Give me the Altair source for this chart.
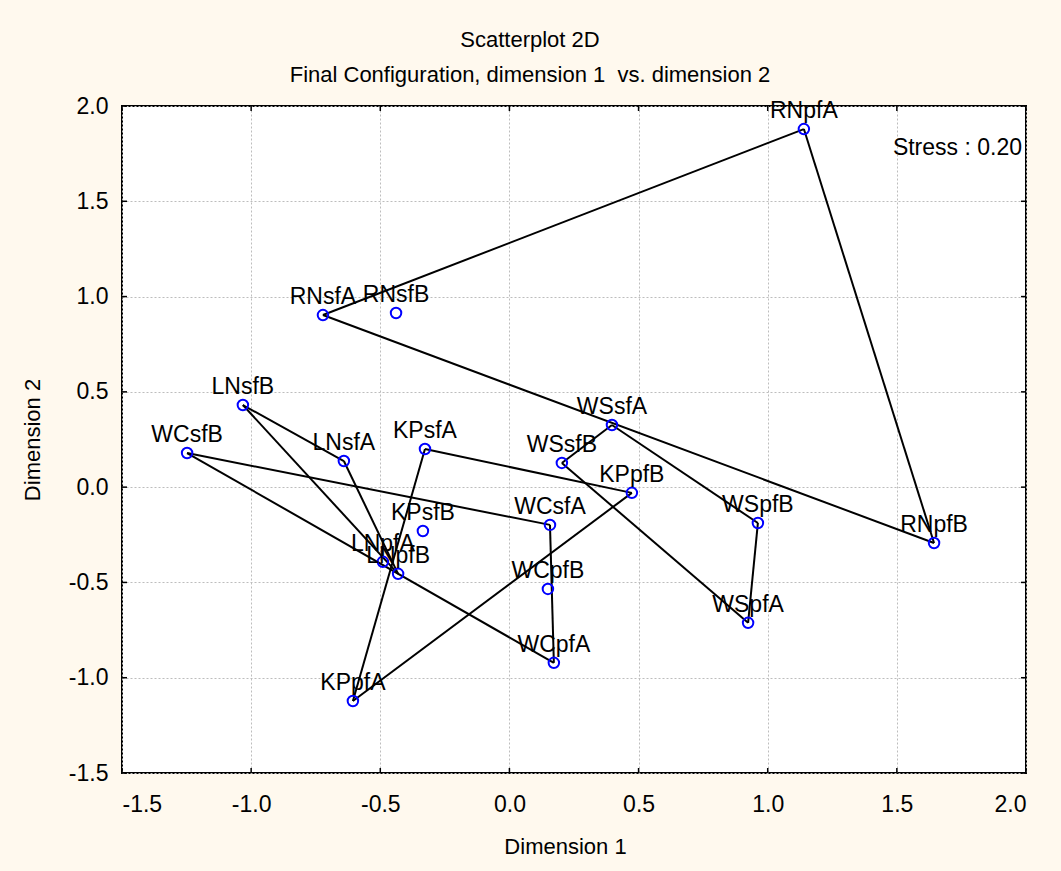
import altair as alt
import pandas as pd

names = ["RNpfA", "RNsfA", "RNsfB", "LNsfB", "LNsfA", "WCsfB", "KPsfA", "KPsfB",
         "LNpfA", "LNpfB", "WSsfA", "WSsfB", "KPpfB", "WCsfA", "WSpfB", "WCpfB",
         "WSpfA", "WCpfA", "KPpfA", "RNpfB"]
dim1 = [1.140, -0.722, -0.439, -1.032, -0.641, -1.248, -0.327, -0.335,
        -0.490, -0.431, 0.397, 0.203, 0.474, 0.157, 0.962, 0.149,
        0.924, 0.172, -0.606, 1.644]
dim2 = [1.879, 0.903, 0.914, 0.431, 0.137, 0.179, 0.200, -0.230,
        -0.392, -0.455, 0.326, 0.127, -0.030, -0.198, -0.188, -0.534,
        -0.712, -0.922, -1.122, -0.293]

edges = [("RNsfA", "RNpfA"), ("RNpfA", "RNpfB"), ("RNsfA", "RNpfB"),
         ("LNsfB", "LNsfA"), ("LNsfA", "LNpfB"), ("LNsfB", "LNpfB"),
         ("WCsfB", "WCsfA"), ("WCsfA", "WCpfA"), ("WCsfB", "WCpfA"),
         ("KPsfA", "KPpfB"), ("KPsfA", "KPpfA"), ("KPpfA", "KPpfB"),
         ("WSsfA", "WSpfB"), ("WSpfB", "WSpfA"), ("WSpfA", "WSsfB"), ("WSsfB", "WSsfA")]

tick_vals = [-1.5, -1.0, -0.5, 0.0, 0.5, 1.0, 1.5, 2.0]
stress_text = "Stress : 0.20"
title_text = "Scatterplot 2D"
subtitle_text = "Final Configuration, dimension 1\u00a0 vs. dimension 2"

FONT = "Liberation Sans"
FS = 22
LFS = 23
W, H = 904, 667

pts = pd.DataFrame({"name": names, "d1": dim1, "d2": dim2})
pos = {n: (a, b) for n, a, b in zip(names, dim1, dim2)}
rows = []
for i, (a, b) in enumerate(edges):
    rows.append({"edge": i, "ord": 0, "d1": pos[a][0], "d2": pos[a][1]})
    rows.append({"edge": i, "ord": 1, "d1": pos[b][0], "d2": pos[b][1]})
lines_df = pd.DataFrame(rows)
xticks_df = pd.DataFrame({"d1": tick_vals})
yticks_df = pd.DataFrame({"d2": tick_vals})

xscale = alt.Scale(domain=[-1.5, 2.0], nice=False, zero=False)
yscale = alt.Scale(domain=[-1.5, 2.0], nice=False, zero=False)
label_expr = "(datum.value < 0 ? '-' : '') + format(abs(datum.value), '.1f')"

xaxis = alt.Axis(values=tick_vals, labelExpr=label_expr, grid=True, gridDash=[2, 2],
                 gridColor="#bdbdbd", gridWidth=1, domain=False, ticks=False, tickSize=0,
                 labelPadding=20, labelFont=FONT, labelFontSize=LFS, labelColor="black",
                 title="Dimension 1", titleFont=FONT, titleFontSize=FS, titleFontWeight="normal",
                 titleColor="black", titlePadding=20, titleX=443)
yaxis = alt.Axis(values=tick_vals, labelExpr=label_expr, grid=True, gridDash=[2, 2],
                 gridColor="#bdbdbd", gridWidth=1, domain=False, ticks=False, tickSize=0,
                 labelPadding=14, labelFont=FONT, labelFontSize=LFS, labelColor="black",
                 title="Dimension 2", titleFont=FONT, titleFontSize=FS, titleFontWeight="normal",
                 titleColor="black", titlePadding=24)

X = alt.X("d1:Q", scale=xscale, axis=xaxis)
Y = alt.Y("d2:Q", scale=yscale, axis=yaxis)

lines = alt.Chart(lines_df).mark_line(color="black", strokeWidth=2).encode(
    x=X, y=Y, detail="edge:N", order="ord:Q")
points = alt.Chart(pts).mark_point(shape="circle", filled=False, color="#0000ff",
                                   size=110, strokeWidth=2, opacity=1).encode(x=X, y=Y)
labels = alt.Chart(pts).mark_text(font=FONT, fontSize=LFS, color="black", align="center",
                                  baseline="alphabetic", dy=-11).encode(
    x=X, y=Y, text="name:N")

tick_style = dict(color="black", strokeWidth=1.5)
tb = alt.Chart(xticks_df).mark_rule(**tick_style).encode(
    x=X, y=alt.value(H), y2=alt.value(H - 5))
tt = alt.Chart(xticks_df).mark_rule(**tick_style).encode(
    x=X, y=alt.value(0), y2=alt.value(5))
tl = alt.Chart(yticks_df).mark_rule(**tick_style).encode(
    y=Y, x=alt.value(0), x2=alt.value(5))
tr = alt.Chart(yticks_df).mark_rule(**tick_style).encode(
    y=Y, x=alt.value(W), x2=alt.value(W - 5))

stress = alt.Chart(pd.DataFrame({"t": [stress_text]})).mark_text(
    font=FONT, fontSize=LFS, color="black", align="right", baseline="alphabetic").encode(
    x=alt.value(W - 4), y=alt.value(49), text="t:N")

chart = alt.layer(lines, points, labels, tb, tt, tl, tr, stress).properties(
    width=W, height=H,
    autosize=alt.AutoSizeParams(type="none"),
    padding={"left": 122, "top": 106, "right": 35, "bottom": 98},
    background="#fff9ee",
    title=alt.TitleParams(text=title_text, subtitle=subtitle_text, font=FONT, fontSize=FS,
                          fontWeight="normal", color="black", subtitleFont=FONT,
                          subtitleFontSize=FS, subtitleColor="black", anchor="middle",
                          dx=-44, offset=8, subtitlePadding=13),
).configure_view(fill="white", stroke="black", strokeWidth=2)

chart.save("out.html", embed_options={"renderer": "svg", "actions": False})
